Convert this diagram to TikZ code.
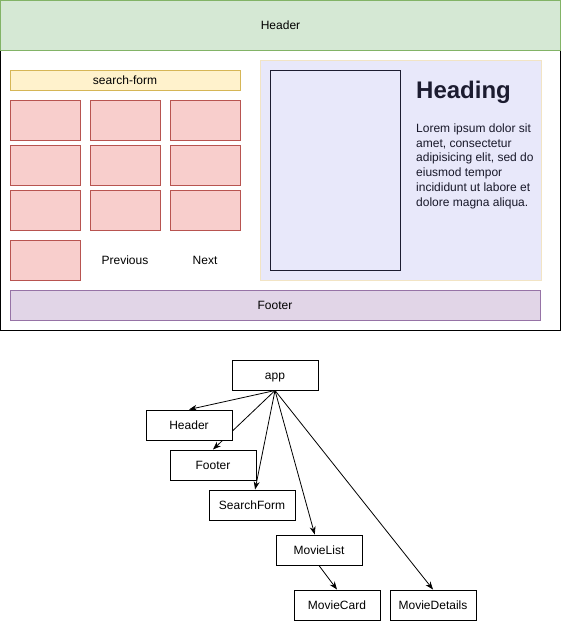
\documentclass[tikz,border=0pt]{standalone}
\usepackage{fontspec}
\setmainfont{Liberation Sans}
\usetikzlibrary{arrows.meta,backgrounds}

\definecolor{greenfill}{HTML}{D5E8D4}
\definecolor{greenline}{HTML}{82B366}
\definecolor{yellowfill}{HTML}{FFF2CC}
\definecolor{yellowline}{HTML}{D6B656}
\definecolor{redfill}{HTML}{F8CECC}
\definecolor{redline}{HTML}{B85450}
\definecolor{purplefill}{HTML}{E1D5E7}
\definecolor{purpleline}{HTML}{9673A6}
\definecolor{panelfill}{HTML}{E8E8FA}
\definecolor{panelline}{HTML}{F2E4C4}
\definecolor{inkdark}{HTML}{1C1C30}

\begin{document}
\begin{tikzpicture}[x=1pt,y=-1pt,
    every node/.style={font=\fontsize{12pt}{14pt}\selectfont},
    bar/.style={draw, line width=1pt, inner sep=0pt, text height=9.6pt, text depth=1.6pt},
    cardbox/.style={bar, fill=redfill, draw=redline, minimum width=70pt, minimum height=40pt},
    treebox/.style={draw=black, fill=white, line width=1pt, inner sep=0pt, text height=9.6pt, text depth=1.6pt, minimum width=86pt, minimum height=30pt},
    link/.style={-{Stealth[length=8pt,width=6pt]}, line width=0.8pt}]
    \useasboundingbox (0,0) rectangle (561,621);

    % page mockup
    \draw[line width=1pt] (0.5,0.5) rectangle (560.5,330);
    \node[bar, fill=greenfill, draw=greenline, minimum width=560pt, minimum height=50pt] (HeaderBar) at (280.5,25) {Header};
    \node[bar, fill=yellowfill, draw=yellowline, minimum width=230pt, minimum height=20pt] (SearchBar) at (125,80) {search-form};

    \node[cardbox] (Card1) at (45,120) {};
    \node[cardbox] (Card2) at (125,120) {};
    \node[cardbox] (Card3) at (205,120) {};
    \node[cardbox] (Card4) at (45,165) {};
    \node[cardbox] (Card5) at (125,165) {};
    \node[cardbox] (Card6) at (205,165) {};
    \node[cardbox] (Card7) at (45,210) {};
    \node[cardbox] (Card8) at (125,210) {};
    \node[cardbox] (Card9) at (205,210) {};
    \node[cardbox] (Card10) at (45,260) {};
    \node[text height=9.6pt, text depth=1.6pt] (Previous) at (125,260) {Previous};
    \node[text height=9.6pt, text depth=1.6pt] (Next) at (205,260) {Next};

    \node[bar, fill=panelfill, draw=panelline, minimum width=281pt, minimum height=220pt] (Panel) at (400.5,170) {};
    \node[bar, draw=inkdark, minimum width=130pt, minimum height=200pt] (Poster) at (335.5,170) {};
    \node[anchor=base west, inner sep=0pt, text=inkdark, font=\fontsize{24pt}{28pt}\selectfont\bfseries] (Heading) at (416,98) {Heading};
    \node[anchor=north west, inner sep=0pt, text=inkdark!85!black, align=left,
          font=\fontsize{12pt}{14.8pt}\selectfont] (Lorem) at (416,123.5)
          {Lorem ipsum dolor sit\\amet, consectetur\\adipisicing elit, sed do\\eiusmod tempor\\incididunt ut labore et\\dolore magna aliqua.};

    \node[bar, fill=purplefill, draw=purpleline, minimum width=530pt, minimum height=30pt] (FooterBar) at (275,305) {Footer};

    % component tree
    \node[treebox] (app) at (275,375) {app};
    \node[treebox] (Header) at (189,425) {Header};
    \node[treebox] (Footer) at (213,465) {Footer};
    \node[treebox] (SearchForm) at (252,505) {SearchForm};
    \node[treebox] (MovieList) at (319,550) {MovieList};
    \node[treebox] (MovieCard) at (337,605) {MovieCard};
    \node[treebox] (MovieDetails) at (433,605) {MovieDetails};

    \begin{scope}[on background layer]
    \path [link] (app.south) edge (Header.north);
    \path [link] (app.south) edge (Footer.north);
    \path [link] (app.south) edge (SearchForm);
    \path [link] (app.south) edge (MovieList);
    \path [link] (app.south) edge (MovieDetails.north);
    \path [link] (MovieList.south) edge (MovieCard.north);
    \end{scope}
\end{tikzpicture}
\end{document}
